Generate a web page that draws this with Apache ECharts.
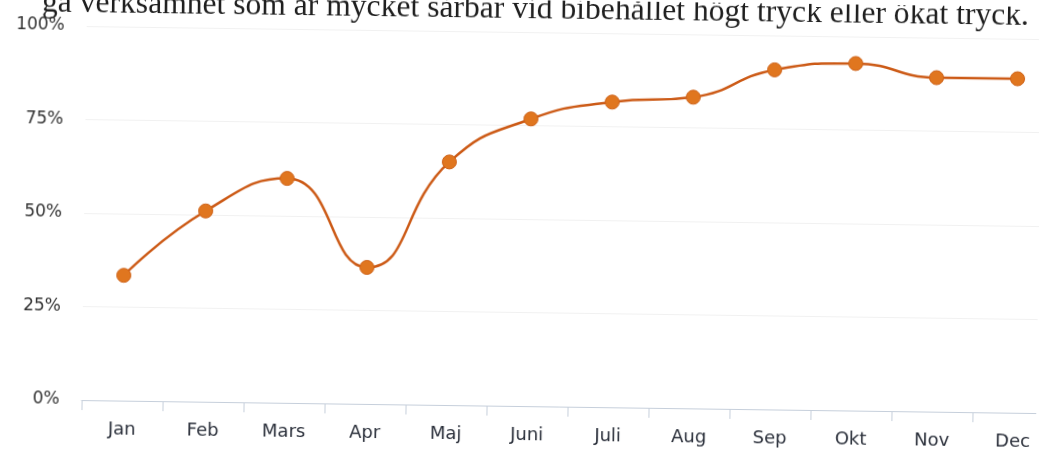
<!DOCTYPE html>
<html>
<head>
<meta charset="utf-8">
<script src="https://cdn.jsdelivr.net/npm/echarts@6/dist/echarts.min.js"></script>
<style>
  html, body { margin: 0; padding: 0; background: #fff; overflow: hidden; }
  /* the source is a slightly tilted scan */
  #main { width: 1039px; height: 454px; transform: rotate(0.78deg); transform-origin: 50% 50%; }
</style>
</head>
<body>
<div id="main"></div>
<script>
const months = ['Jan', 'Feb', 'Mars', 'Apr', 'Maj', 'Juni', 'Juli', 'Aug', 'Sep', 'Okt', 'Nov', 'Dec']
const share = [33.5, 51, 60, 36.5, 65, 76.8, 81.6, 83.2, 90.8, 92.8, 89.3, 89.3]
const yTicks = [0, 25, 50, 75, 100]
const heading = 'ga verksamhet som är mycket sårbar vid bibehållet högt tryck eller ökat tryck.'

const myChart = echarts.init(document.getElementById('main'))

myChart.setOption({
  animation: false,
  backgroundColor: '#fff',
  title: {
    text: heading,
    left: 34,
    top: -11,
    textStyle: {
      fontFamily: 'Liberation Serif',
      fontSize: 31.6,
      fontWeight: 'normal',
      color: '#1e1e1e'
    }
  },
  grid: {
    left: 84,
    width: 972,
    top: 32,
    bottom: 48,
    outerBoundsMode: 'none'
  },
  xAxis: {
    type: 'category',
    data: months,
    boundaryGap: true,
    axisLine: { lineStyle: { color: '#c6cfdb', width: 1 } },
    axisTick: { show: true, length: 10, lineStyle: { color: '#c6cfdb' } },
    axisLabel: {
      margin: 20,
      fontFamily: 'DejaVu Sans',
      fontSize: 18,
      color: '#2a2f3a'
    }
  },
  yAxis: {
    type: 'value',
    min: yTicks[0],
    max: yTicks[yTicks.length - 1],
    interval: 25,
    axisLine: { show: false },
    axisTick: { show: false },
    axisLabel: {
      margin: 22,
      fontFamily: 'DejaVu Sans',
      fontSize: 17,
      color: '#333',
      formatter: v => v + '%'
    },
    splitLine: { lineStyle: { color: '#f1f1f1', width: 1 } }
  },
  series: [{
    type: 'line',
    data: share,
    smooth: true,
    symbol: 'circle',
    symbolSize: 14,
    lineStyle: { color: '#cc5a16', width: 2.5 },
    itemStyle: { color: '#e0761f', borderColor: '#cf6218', borderWidth: 1 }
  }]
})
</script>
</body>
</html>
